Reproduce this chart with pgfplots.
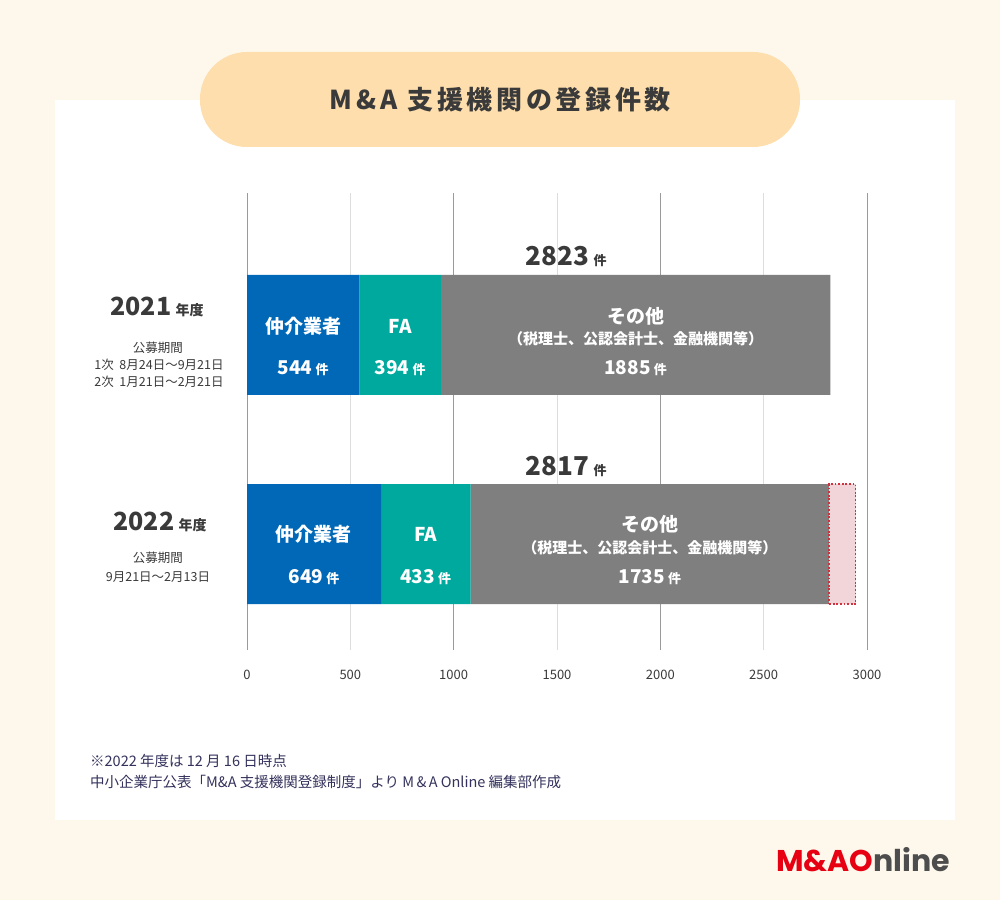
\documentclass[border=0pt]{standalone}
\usepackage{pgfplots}
\pgfplotsset{compat=1.18}
\usepackage{fontspec}
\setmainfont{Noto Sans CJK JP}
\newfontfamily\titlefont{Noto Sans CJK JP}[LetterSpace=14]
\newfontfamily\logofont{Poppins}

\definecolor{bgcream}{HTML}{FEF8EC}
\definecolor{titlefill}{HTML}{FDDEAC}
\definecolor{txtdark}{HTML}{3A3A3A}
\definecolor{barblue}{HTML}{0068B7}
\definecolor{barteal}{HTML}{00A99D}
\definecolor{bargray}{HTML}{7F7F7F}
\definecolor{pendfill}{HTML}{F2D5D8}
\definecolor{pendline}{HTML}{D2303C}
\definecolor{gridmajor}{HTML}{9A9A9A}
\definecolor{gridminor}{HTML}{DDDDDD}
\definecolor{notecol}{HTML}{34325C}
\definecolor{logored}{HTML}{E60012}
\definecolor{logogray}{HTML}{4D4D4D}

\newcommand{\fs}[1]{\fontsize{#1}{#1}\selectfont}

\pgfplotsset{
  panel/.style={
    scale only axis, width=620pt, height=457pt,
    xmin=0, xmax=3000, ymin=-0.507, ymax=1.679,
    clip=false,
  },
}
\tikzset{inbar/.style={white, font=\fs{19}\bfseries}}

\begin{document}
\begin{tikzpicture}[x=1pt,y=1pt]
% canvas, white panel and title pill (origin of the axes sits at 247,250)
\begin{scope}[shift={(-247,-250)}]
\fill[bgcream] (0,0) rectangle (1000,900);
\fill[white] (55,80) rectangle (955,800);
\fill[titlefill, rounded corners=47pt] (200,753) rectangle (800,848);
\node[txtdark, font=\titlefont\fs{26}\bfseries] at (500,800) {M\,\&\,A\ 支援機関の登録件数};
\end{scope}

\begin{axis}[
  panel,
  xbar stacked, bar width=120pt,
  axis line style={draw=none},
  ytick=\empty,
  xtick={0,500,...,3000},
  major tick length=0pt,
  xmajorgrids, grid style={gridminor, line width=1pt},
  extra x ticks={0,1000,2000,3000},
  extra x tick labels={},
  extra x tick style={grid style={gridmajor, line width=1pt}},
  xticklabel style={anchor=center, yshift=-25pt, font=\fs{13}, text=txtdark},
  /pgf/number format/assume math mode=true,
  /pgf/number format/1000 sep={},
]
\addplot[fill=barblue, draw=none] coordinates {(544,1) (649,0)};
\addplot[fill=barteal, draw=none] coordinates {(394,1) (433,0)};
\addplot[fill=bargray, draw=none] coordinates {(1885,1) (1735,0)};
\end{axis}

% projected remainder of the 2022 year, and the bar labels
\begin{axis}[panel, hide axis]
\addplot[fill=pendfill, draw=pendline, line width=1.6pt,
  dash pattern=on 1.8pt off 1.8pt]
  coordinates {(2817,-0.287) (2945,-0.287) (2945,0.287) (2817,0.287)} -- cycle;

% 2021
\node[inbar] at (axis cs:272,1) [yshift=9pt] {仲介業者};
\node[inbar] at (axis cs:272,1) [yshift=-33pt] {544\,{\fs{13}件}};
\node[inbar] at (axis cs:741,1) [yshift=9pt] {FA};
\node[inbar] at (axis cs:741,1) [yshift=-33pt] {394\,{\fs{13}件}};
\node[inbar] at (axis cs:1880,1) [yshift=19pt] {その他};
\node[white, font=\fs{15}\bfseries] at (axis cs:1880,1) [yshift=-4pt] {（税理士、公認会計士、金融機関等）};
\node[inbar] at (axis cs:1880,1) [yshift=-33pt] {1885\,{\fs{13}件}};
\node[txtdark, font=\fs{26}\bfseries] at (axis cs:1545,1) [yshift=78pt] {2823\,{\fs{13}件}};

% 2022
\node[inbar] at (axis cs:324,0) [yshift=10pt] {仲介業者};
\node[inbar] at (axis cs:324,0) [yshift=-33pt] {649\,{\fs{13}件}};
\node[inbar] at (axis cs:865,0) [yshift=10pt] {FA};
\node[inbar] at (axis cs:865,0) [yshift=-33pt] {433\,{\fs{13}件}};
\node[inbar] at (axis cs:1949,0) [yshift=20pt] {その他};
\node[white, font=\fs{15}\bfseries] at (axis cs:1949,0) [yshift=-4pt] {（税理士、公認会計士、金融機関等）};
\node[inbar] at (axis cs:1949,0) [yshift=-33pt] {1735\,{\fs{13}件}};
\node[txtdark, font=\fs{26}\bfseries] at (axis cs:1545,0) [yshift=78pt] {2817\,{\fs{13}件}};
\end{axis}

\begin{scope}[shift={(-247,-250)}]
% row headings
\node[txtdark, font=\fs{25}\bfseries] at (157,593) {2021\,{\fs{14}年度}};
\node[txtdark, font=\fs{12.5}] at (158,552) {公募期間};
\node[txtdark, font=\fs{12.5}] at (159,535) {1次\ \ 8月24日～9月21日};
\node[txtdark, font=\fs{12.5}] at (159,518) {2次\ \ 1月21日～2月21日};

\node[txtdark, font=\fs{25}\bfseries] at (160,378) {2022\,{\fs{14}年度}};
\node[txtdark, font=\fs{12.5}] at (158,342) {公募期間};
\node[txtdark, font=\fs{12.5}] at (158,323) {9月21日～2月13日};

% notes
\node[notecol, font=\fs{14.5}, anchor=west, inner sep=0pt] at (90,139) {※2022 年度は 12 月 16 日時点};
\node[notecol, font=\fs{14.5}, anchor=west, inner sep=0pt] at (90,118) {中小企業庁公表「M\&A 支援機関登録制度」より M\,\&\,A Online 編集部作成};

% logo
\node[font=\logofont\fs{30}\bfseries, anchor=west, inner sep=0pt] at (776,40)
  {\textcolor{logored}{M\&AO}\textcolor{logogray}{nline}};
\end{scope}
\end{tikzpicture}
\end{document}
